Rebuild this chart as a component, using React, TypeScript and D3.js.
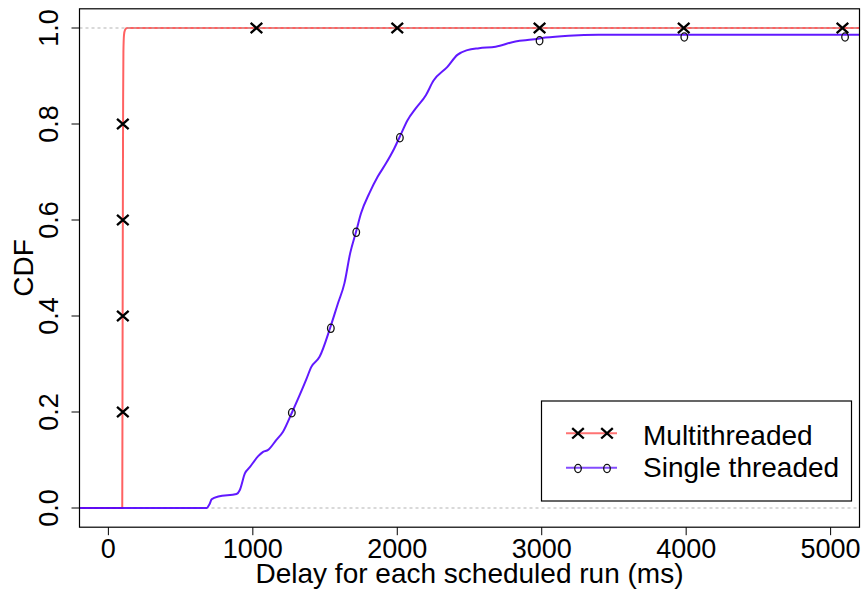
import React from "react";
import * as d3 from "d3";

// Empirical CDF of scheduling delay (ms) for each mode
const multiDelay = [-200, 96, 98, 100, 102, 104, 108, 115, 130, 5200];
const multiCdf = [0, 0, 0.3, 0.6, 0.85, 0.95, 0.985, 0.996, 1.0, 1.0];

const singleDelay = [
  -200, 681, 700, 715, 761, 887, 910, 945, 979, 1037, 1071, 1106, 1163, 1209,
  1271, 1324, 1370, 1405, 1462, 1536, 1589, 1634, 1674, 1715, 1749, 1807, 1864,
  1922, 1979, 2018, 2071, 2129, 2198, 2250, 2347, 2416, 2485, 2566, 2681, 2818,
  2933, 3025, 3186, 3393, 5200,
];
const singleCdf = [
  0, 0, 0.008, 0.018, 0.024, 0.029, 0.0375, 0.072, 0.085, 0.108, 0.117, 0.121,
  0.142, 0.159, 0.199, 0.235, 0.268, 0.294, 0.315, 0.376, 0.426, 0.468, 0.531,
  0.576, 0.614, 0.656, 0.69, 0.718, 0.749, 0.774, 0.808, 0.833, 0.86, 0.89,
  0.919, 0.944, 0.954, 0.958, 0.961, 0.972, 0.976, 0.98, 0.984, 0.986, 0.986,
];

// Point symbols placed along each curve
const multiMarkX = [100, 100, 100, 100, 1025, 2000, 2985, 3983, 5082];
const multiMarkY = [0.2, 0.4, 0.6, 0.8, 1.0, 1.0, 1.0, 1.0, 1.0];
const singleMarkX = [1270, 1540, 1716, 2018, 2985, 3987, 5100];
const singleMarkY = [0.2, 0.376, 0.576, 0.773, 0.975, 0.983, 0.983];

const xTicks = [0, 1000, 2000, 3000, 4000, 5000];
const yTicks = [0, 0.2, 0.4, 0.6, 0.8, 1.0];
const seriesNames = ["Multithreaded", "Single threaded"];

const W = 865;
const H = 594;
const plot = { left: 79.5, right: 859.5, top: 8.8, bottom: 527.2 };
const FONT = "'Liberation Sans', Arial, Helvetica, sans-serif";
const FS = 27;
const FS_LABEL = 28;

const RED = "rgba(255,0,0,0.62)";
const BLUE = "rgba(80,0,255,0.9)";

function Cross({ x, y }: { x: number; y: number }) {
  const s = 5.8;
  return (
    <path
      d={`M${x - s},${y - s * 0.9}L${x + s},${y + s * 0.9}M${x + s},${y - s * 0.9}L${x - s},${y + s * 0.9}`}
      stroke="#000"
      strokeWidth={2.3}
      fill="none"
    />
  );
}

function Ring({ x, y }: { x: number; y: number }) {
  return <ellipse cx={x} cy={y + 0.8} rx={3.3} ry={4.1} stroke="#111" strokeWidth={1.3} fill="none" />;
}

export default function App() {
  const x = d3.scaleLinear().domain([-200, 5200]).range([plot.left, plot.right]);
  const y = d3.scaleLinear().domain([-0.04, 1.04]).range([plot.bottom, plot.top]);

  const line = d3
    .line<[number, number]>()
    .x((d) => x(d[0]))
    .y((d) => y(d[1]))
    .curve(d3.curveMonotoneX);

  const multiPath = line(multiDelay.map((v, i) => [v, multiCdf[i]] as [number, number])) || "";
  const singlePath = line(singleDelay.map((v, i) => [v, singleCdf[i]] as [number, number])) || "";

  const legend = { left: 541.5, top: 401, right: 851.5, bottom: 501 };
  const legRowY = [433.3, 467.7];

  return (
    <svg
      width={W}
      height={H}
      style={{ position: "absolute", left: 0, top: 0, background: "#fff" }}
      fontFamily={FONT}
    >
      <defs>
        <clipPath id="plotArea">
          <rect x={plot.left} y={plot.top} width={plot.right - plot.left} height={plot.bottom - plot.top} />
        </clipPath>
      </defs>

      <g clipPath="url(#plotArea)">
        <path d={multiPath} stroke={RED} strokeWidth={2} fill="none" />
        {[0, 1].map((v) => (
          <line
            key={v}
            x1={plot.left}
            x2={plot.right}
            y1={y(v)}
            y2={y(v)}
            stroke="#b3b3b3"
            strokeWidth={1}
            strokeDasharray="3 3"
          />
        ))}
        <path d={singlePath} stroke={BLUE} strokeWidth={2} fill="none" />
        {multiMarkX.map((v, i) => (
          <Cross key={`m${i}`} x={x(v)} y={y(multiMarkY[i])} />
        ))}
        {singleMarkX.map((v, i) => (
          <Ring key={`s${i}`} x={x(v)} y={y(singleMarkY[i])} />
        ))}
      </g>

      <rect
        x={plot.left}
        y={plot.top}
        width={plot.right - plot.left}
        height={plot.bottom - plot.top}
        fill="none"
        stroke="#000"
        strokeWidth={1.2}
      />

      {/* x axis */}
      {xTicks.map((t) => (
        <g key={`xt${t}`}>
          <line x1={x(t)} x2={x(t)} y1={plot.bottom} y2={plot.bottom + 8} stroke="#000" strokeWidth={1} />
          <text x={x(t)} y={558} fontSize={FS} textAnchor="middle" fill="#000">
            {t}
          </text>
        </g>
      ))}
      <text x={(plot.left + plot.right) / 2} y={583} fontSize={FS_LABEL} textAnchor="middle" fill="#000">
        Delay for each scheduled run (ms)
      </text>

      {/* y axis */}
      {yTicks.map((t) => (
        <g key={`yt${t}`}>
          <line x1={plot.left - 8} x2={plot.left} y1={y(t)} y2={y(t)} stroke="#000" strokeWidth={1} />
          <text
            transform={`translate(57.5,${y(t)}) rotate(-90)`}
            fontSize={FS}
            textAnchor="middle"
            fill="#000"
          >
            {d3.format(".1f")(t)}
          </text>
        </g>
      ))}
      <text
        transform={`translate(33,${(plot.top + plot.bottom) / 2}) rotate(-90)`}
        fontSize={FS_LABEL}
        textAnchor="middle"
        fill="#000"
      >
        CDF
      </text>

      {/* legend */}
      <rect
        x={legend.left}
        y={legend.top}
        width={legend.right - legend.left}
        height={legend.bottom - legend.top}
        fill="#fff"
        stroke="#000"
        strokeWidth={1.2}
      />
      <line x1={566} x2={617} y1={legRowY[0]} y2={legRowY[0]} stroke="rgba(255,0,0,0.55)" strokeWidth={2} />
      <Cross x={578} y={legRowY[0]} />
      <Cross x={607} y={legRowY[0]} />
      <line x1={566} x2={617} y1={legRowY[1]} y2={legRowY[1]} stroke="rgba(80,0,255,0.7)" strokeWidth={2} />
      <Ring x={578} y={legRowY[1]} />
      <Ring x={607} y={legRowY[1]} />
      <text x={643} y={445} fontSize={FS_LABEL} fill="#000">
        {seriesNames[0]}
      </text>
      <text x={643} y={477} fontSize={FS_LABEL} fill="#000">
        {seriesNames[1]}
      </text>
    </svg>
  );
}
